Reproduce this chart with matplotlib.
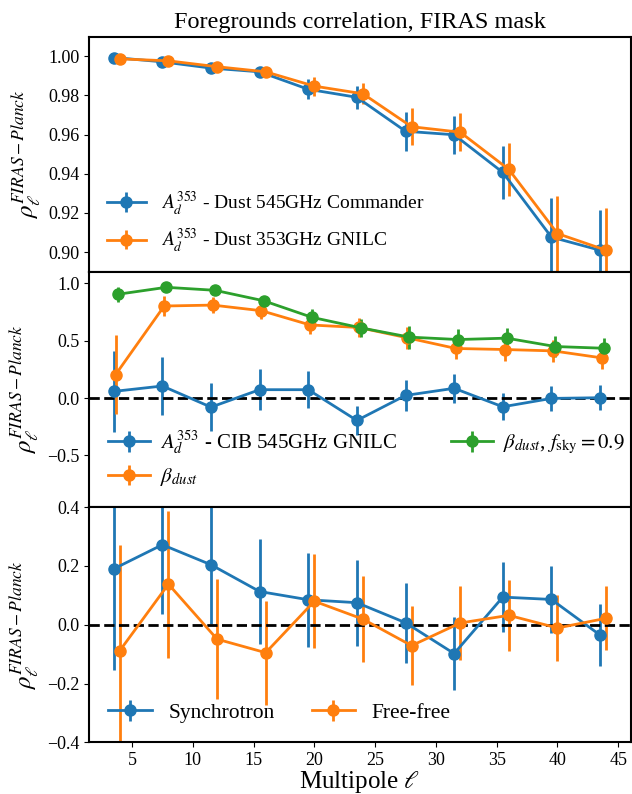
import numpy as np
import matplotlib
matplotlib.use("Agg")
import matplotlib.pyplot as plt

plt.rcParams['font.family'] = ['Liberation Serif', 'DejaVu Serif']
plt.rcParams['mathtext.fontset'] = 'stix'

# multipole bins
ell = np.array([3.5, 7.5, 11.5, 15.5, 19.5, 23.5, 27.5, 31.5, 35.5, 39.5, 43.5])

#### panel 1: dust amplitude ####
rho_commander = [0.9993, 0.9971, 0.9939, 0.9920, 0.9831, 0.9790, 0.9617, 0.9599, 0.9407, 0.9077, 0.9010]
err_commander = [0.0006, 0.0007, 0.0008, 0.0009, 0.0051, 0.0060, 0.0100, 0.0098, 0.0136, 0.0200, 0.0204]
rho_gnilc = [0.9986, 0.9976, 0.9946, 0.9920, 0.9847, 0.9808, 0.9640, 0.9612, 0.9422, 0.9095, 0.9010]
err_gnilc = [0.0006, 0.0007, 0.0008, 0.0009, 0.0048, 0.0054, 0.0095, 0.0096, 0.0134, 0.0193, 0.0213]

#### panel 2: CIB and beta ####
rho_cib = [0.058, 0.105, -0.079, 0.073, 0.073, -0.195, 0.023, 0.085, -0.076, -0.003, 0.003]
err_cib = [0.35, 0.25, 0.21, 0.18, 0.16, 0.13, 0.134, 0.125, 0.117, 0.112, 0.109]
rho_beta = [0.204, 0.802, 0.810, 0.761, 0.637, 0.615, 0.525, 0.432, 0.423, 0.411, 0.350]
err_beta = [0.343, 0.09, 0.07, 0.07, 0.08, 0.083, 0.095, 0.095, 0.10, 0.095, 0.095]
rho_beta09 = [0.904, 0.965, 0.939, 0.848, 0.703, 0.612, 0.531, 0.510, 0.522, 0.449, 0.434]
err_beta09 = [0.066, 0.03, 0.03, 0.04, 0.075, 0.08, 0.10, 0.09, 0.09, 0.09, 0.09]

#### panel 3: synchrotron and free-free ####
rho_sync = [0.190, 0.272, 0.204, 0.113, 0.085, 0.075, 0.007, -0.098, 0.094, 0.086, -0.035]
err_sync = [0.345, 0.235, 0.20, 0.177, 0.16, 0.146, 0.136, 0.125, 0.118, 0.113, 0.106]
rho_ff = [-0.088, 0.138, -0.049, -0.095, 0.080, 0.019, -0.071, 0.006, 0.032, -0.011, 0.022]
err_ff = [0.358, 0.25, 0.205, 0.177, 0.16, 0.146, 0.134, 0.126, 0.12, 0.113, 0.109]

ylab = r'$\rho_\ell^{FIRAS-Planck}$'
kw = dict(fmt='-o', markersize=8, lw=2, elinewidth=2)

fig, axs = plt.subplots(3, 1, figsize=(6.32, 7.94), dpi=100, sharex=True)
fig.subplots_adjust(left=0.141, right=0.998, top=0.954, bottom=0.065, hspace=0)

ax = axs[0]
ax.errorbar(ell, rho_commander, yerr=err_commander, label=r'$A_d^{353}$ - Dust 545GHz Commander', **kw)
ax.errorbar(ell + 0.5, rho_gnilc, yerr=err_gnilc, label=r'$A_d^{353}$ - Dust 353GHz GNILC', **kw)
ax.set_ylim(0.89, 1.01)
ax.set_yticks([0.90, 0.92, 0.94, 0.96, 0.98, 1.00])
ax.legend(loc='lower left', frameon=False, fontsize=14)
ax.set_title('Foregrounds correlation, FIRAS mask', fontsize=17.5)

ax = axs[1]
ax.errorbar(ell, rho_cib, yerr=err_cib, label=r'$A_d^{353}$ - CIB 545GHz GNILC', **kw)
ax.errorbar(ell + 0.15, rho_beta, yerr=err_beta, label=r'$\beta_{dust}$', **kw)
ax.errorbar(ell + 0.32, rho_beta09, yerr=err_beta09, label=r'$\beta_{dust}$, $f_{\rm sky}=0.9$', **kw)
ax.axhline(0, color='k', ls='--', lw=2)
ax.set_ylim(-0.95, 1.1)
ax.set_yticks([-0.5, 0.0, 0.5, 1.0])
ax.legend(loc='lower left', ncol=2, frameon=False, fontsize=15, handletextpad=0.5, columnspacing=2.6)

ax = axs[2]
ax.errorbar(ell, rho_sync, yerr=err_sync, label='Synchrotron', **kw)
ax.errorbar(ell + 0.5, rho_ff, yerr=err_ff, label='Free-free', **kw)
ax.axhline(0, color='k', ls='--', lw=2)
ax.set_ylim(-0.4, 0.4)
ax.set_yticks([-0.4, -0.2, 0.0, 0.2, 0.4])
ax.legend(loc='lower left', ncol=2, frameon=False, fontsize=15.5, columnspacing=1.7)
ax.set_xlabel(r'Multipole $\ell$', fontsize=18, labelpad=0)

for ax in axs:
    ax.set_ylabel(ylab, fontsize=18)
    ax.tick_params(labelsize=13)
    for s in ax.spines.values():
        s.set_linewidth(1.5)

fig.savefig('out.png', dpi=100)
